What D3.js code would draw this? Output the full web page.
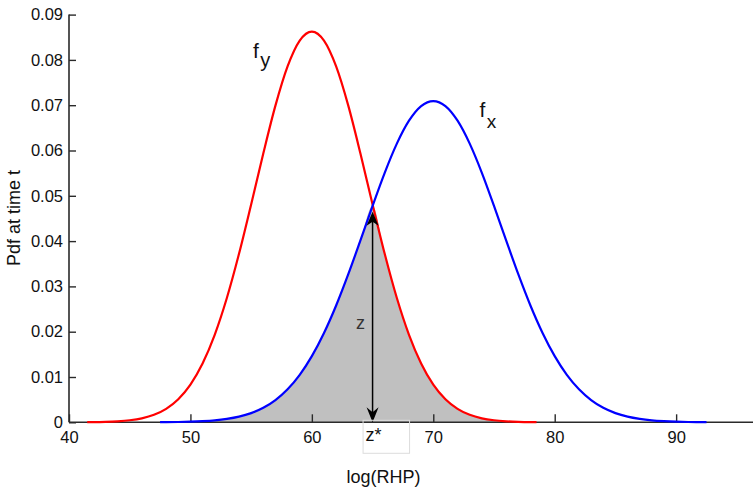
<!DOCTYPE html>
<html>
<head>
<meta charset="utf-8">
<script src="https://cdn.jsdelivr.net/npm/d3@7/dist/d3.min.js"></script>
<style>
  html, body { margin: 0; padding: 0; background: #fff; }
  svg { display: block; font-family: "Liberation Sans", Arial, Helvetica, sans-serif; }
</style>
</head>
<body>
<svg id="chart" width="753" height="492"></svg>
<script>
// ---- data ----
const fyX = [41.5, 42, 43, 44, 45, 46, 47, 48, 49, 50, 51, 52, 53, 54, 55, 56, 57, 58, 59, 60,
             61, 62, 63, 64, 65, 66, 67, 68, 69, 70, 71, 72, 73, 74, 75, 76, 77, 78, 78.5];
const fyY = [0.00003, 0.00004, 0.00010, 0.00022, 0.00045, 0.00088, 0.00166, 0.00298, 0.00510, 0.00833,
             0.01299, 0.01932, 0.02744, 0.03719, 0.04809, 0.05934, 0.06990, 0.07856, 0.08427, 0.08626,
             0.08427, 0.07856, 0.06990, 0.05934, 0.04809, 0.03719, 0.02744, 0.01932, 0.01299, 0.00833,
             0.00510, 0.00298, 0.00166, 0.00088, 0.00045, 0.00022, 0.00010, 0.00004, 0.00003];
const fxX = [47.5, 48, 49, 50, 51, 52, 53, 54, 55, 56, 57, 58, 59, 60, 61, 62, 63, 64, 65, 66, 67, 68, 69, 70,
             71, 72, 73, 74, 75, 76, 77, 78, 79, 80, 81, 82, 83, 84, 85, 86, 87, 88, 89, 90, 91, 92, 92.5];
const fxY = [0.00002, 0.00003, 0.00007, 0.00013, 0.00024, 0.00042, 0.00074, 0.00124, 0.00203, 0.00320,
             0.00491, 0.00729, 0.01048, 0.01461, 0.01972, 0.02579, 0.03270, 0.04015, 0.04777, 0.05508,
             0.06152, 0.06658, 0.06981, 0.07092, 0.06981, 0.06658, 0.06152, 0.05508, 0.04777, 0.04015,
             0.03270, 0.02579, 0.01972, 0.01461, 0.01048, 0.00729, 0.00491, 0.00320, 0.00203, 0.00124,
             0.00074, 0.00042, 0.00024, 0.00013, 0.00007, 0.00003, 0.00002];
const xTicks = [40, 50, 60, 70, 80, 90];
const yTicks = [0, 0.01, 0.02, 0.03, 0.04, 0.05, 0.06, 0.07, 0.08, 0.09];
const yTickLabels = ["0", "0.01", "0.02", "0.03", "0.04", "0.05", "0.06", "0.07", "0.08", "0.09"];
const zStar = 65;          // threshold position
const zTop = 0.0465;       // top of the double arrow
const xTitle = "log(RHP)";
const yTitle = "Pdf at time t";

// ---- scales ----
const svg = d3.select("#chart");
const x = d3.scaleLinear().domain([40, 96.33]).range([69, 753]);
const y = d3.scaleLinear().domain([0, 0.09]).range([422.3, 14.6]);

const fy = fyX.map((v, i) => ({x: v, y: fyY[i]}));
const fx = fxX.map((v, i) => ({x: v, y: fxY[i]}));

// overlap region: min of the two densities
const overlap = fx.filter(d => d.x <= zStar).map(d => {
  const r = fy.find(e => e.x === d.x);
  return {x: d.x, y: r ? Math.min(r.y, d.y) : d.y};
}).concat(fy.filter(d => d.x > zStar));

const area = d3.area().x(d => x(d.x)).y0(y(0)).y1(d => y(d.y)).curve(d3.curveMonotoneX);
svg.append("path").datum(overlap).attr("d", area).attr("fill", "#c0c0c0");

// ---- axes ----
const axisColor = "#2a2a2a";
const xAxis = svg.append("g").attr("transform", `translate(0,${y(0)})`)
  .call(d3.axisBottom(x).tickValues(xTicks).tickSize(-8).tickPadding(8.5).tickFormat(d3.format("d")));
xAxis.select(".domain").attr("d", `M${x(40)},0H753`).attr("stroke", axisColor).attr("stroke-width", 1.6);
xAxis.selectAll(".tick line").attr("stroke", axisColor).attr("stroke-width", 1.4);
xAxis.selectAll(".tick text").attr("font-size", 16.5).attr("fill", "#111")
  .attr("font-family", "'Liberation Sans', Arial, sans-serif");

const yAxis = svg.append("g").attr("transform", `translate(${x(40)},0)`)
  .call(d3.axisLeft(y).tickValues(yTicks).tickSize(-7).tickPadding(6)
    .tickFormat((d, i) => yTickLabels[i]));
yAxis.select(".domain").attr("d", `M0,${y(0.09)}V${y(0)}`).attr("stroke", axisColor).attr("stroke-width", 1.6);
yAxis.selectAll(".tick line").attr("stroke", axisColor).attr("stroke-width", 1.4);
yAxis.selectAll(".tick text").attr("font-size", 16.5).attr("fill", "#111")
  .attr("font-family", "'Liberation Sans', Arial, sans-serif");

// ---- curves ----
const line = d3.line().x(d => x(d.x)).y(d => y(d.y)).curve(d3.curveMonotoneX);
svg.append("path").datum(fy).attr("d", line).attr("fill", "none").attr("stroke", "#f00").attr("stroke-width", 2.2);
svg.append("path").datum(fx).attr("d", line).attr("fill", "none").attr("stroke", "#00f").attr("stroke-width", 2.2);

// ---- double arrow ----
const ax = x(zStar), aTop = y(zTop), aBot = y(0);
svg.append("line").attr("x1", ax).attr("x2", ax).attr("y1", aTop + 6).attr("y2", aBot - 6)
  .attr("stroke", "#000").attr("stroke-width", 1.5);
svg.append("path").attr("d", `M${ax},${aTop} L${ax + 6},${aTop + 14} L${ax},${aTop + 10} L${ax - 6},${aTop + 14} Z`)
  .attr("fill", "#000");
svg.append("path").attr("d", `M${ax},${aBot} L${ax + 6},${aBot - 15} L${ax},${aBot - 10} L${ax - 6},${aBot - 15} Z`)
  .attr("fill", "#000");

// ---- annotations ----
svg.append("text").attr("x", ax - 12).attr("y", y(0.0205)).attr("text-anchor", "middle")
  .attr("font-size", 18).attr("fill", "#333").text("z");

svg.append("rect").attr("x", ax - 9.5).attr("y", y(0) - 2).attr("width", 46.5).attr("height", 33)
  .attr("fill", "none").attr("stroke", "#dcdcdc").attr("stroke-width", 1);
svg.append("text").attr("x", ax - 7).attr("y", 441).attr("font-size", 18).attr("fill", "#111").text("z*");

const fyLab = svg.append("text").attr("x", 253).attr("y", 58).attr("fill", "#111");
fyLab.append("tspan").attr("font-size", 21).text("f");
fyLab.append("tspan").attr("font-size", 20).attr("dx", 1.5).attr("dy", 9).text("y");

const fxLab = svg.append("text").attr("x", 479.5).attr("y", 117).attr("fill", "#111");
fxLab.append("tspan").attr("font-size", 21).text("f");
fxLab.append("tspan").attr("font-size", 19).attr("dx", 1.5).attr("dy", 11).text("x");

// ---- axis titles ----
svg.append("text").attr("x", 383.5).attr("y", 483).attr("text-anchor", "middle")
  .attr("font-size", 18).attr("fill", "#111").text(xTitle);
svg.append("text").attr("transform", "translate(20,218) rotate(-90)").attr("text-anchor", "middle")
  .attr("font-size", 18).attr("fill", "#111").text(yTitle);
</script>
</body>
</html>
